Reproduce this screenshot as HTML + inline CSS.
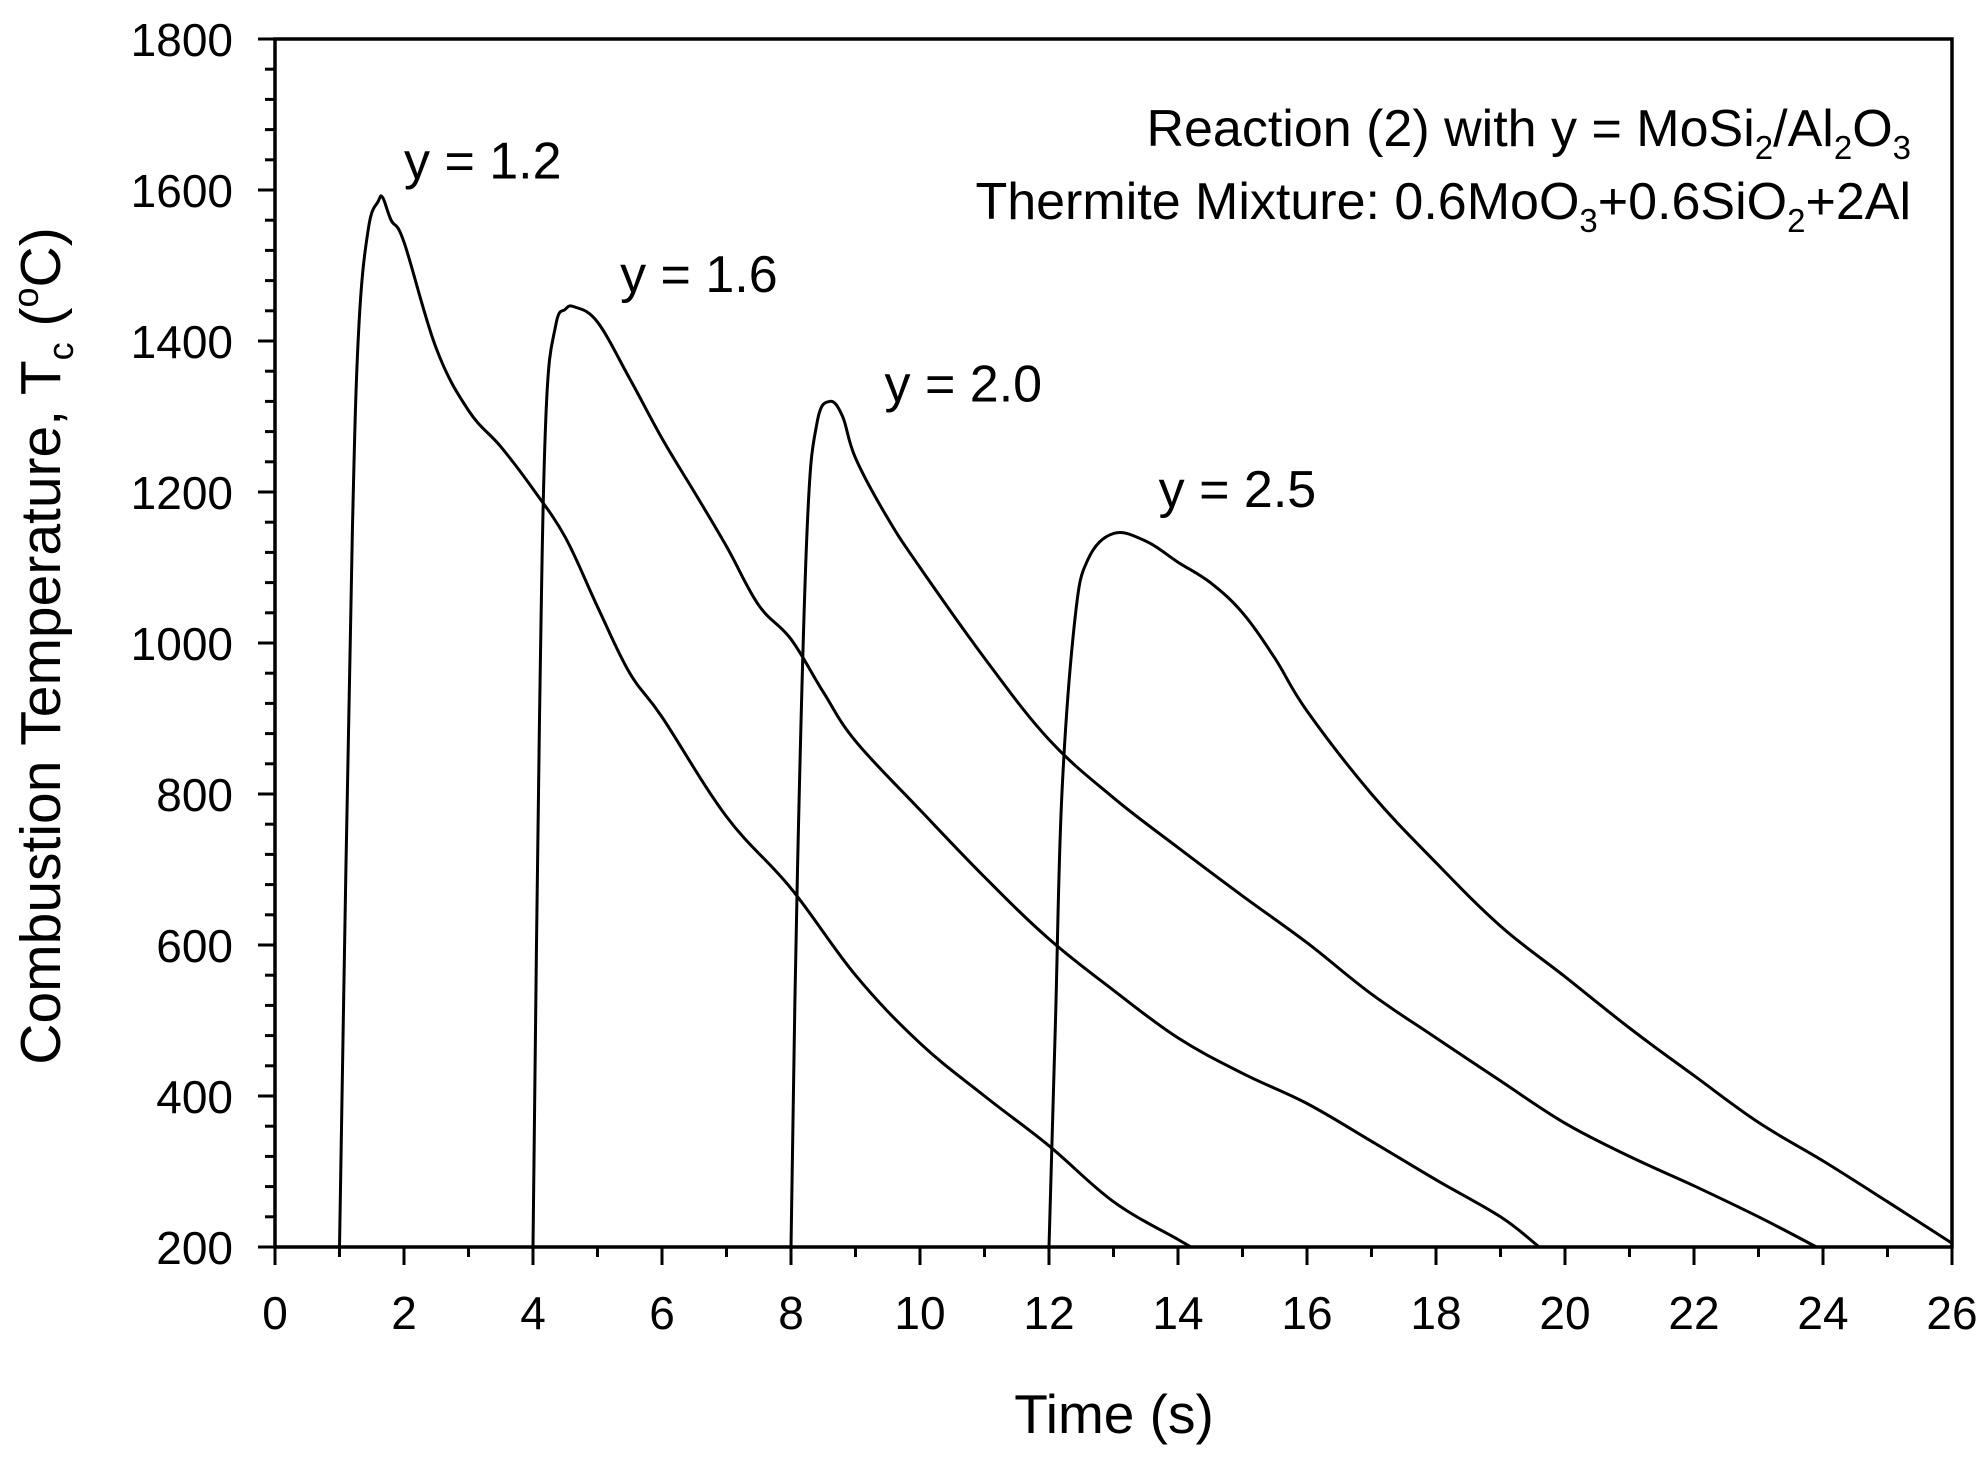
<!DOCTYPE html>
<html><head><meta charset="utf-8"><style>
html,body{margin:0;padding:0;background:#fff;}
svg{display:block;font-family:"Liberation Sans",Arial,sans-serif;}
</style></head><body>
<svg id="chart" width="1988" height="1462" viewBox="0 0 1988 1462" xmlns="http://www.w3.org/2000/svg">
<rect width="1988" height="1462" fill="#fff"/>
<g id="marks"></g>
<g id="axes"></g>
<text x="1911" y="146" font-size="52" text-anchor="end">Reaction (2) with y = MoSi<tspan font-size="33" dy="13">2</tspan><tspan dy="-13">/Al</tspan><tspan font-size="33" dy="13">2</tspan><tspan dy="-13">O</tspan><tspan font-size="33" dy="13">3</tspan></text>
<text x="1911" y="219" font-size="52" text-anchor="end">Thermite Mixture: 0.6MoO<tspan font-size="33" dy="13">3</tspan><tspan dy="-13">+0.6SiO</tspan><tspan font-size="33" dy="13">2</tspan><tspan dy="-13">+2Al</tspan></text>
<text x="1114" y="1433" font-size="55" text-anchor="middle">Time (s)</text>
<text transform="translate(60,646) rotate(-90)" font-size="57" text-anchor="middle">Combustion Temperature, T<tspan font-size="36" dy="13">c</tspan><tspan dy="-13"> (</tspan><tspan font-size="36" dy="-22">o</tspan><tspan dy="22">C)</tspan></text>
</svg>
<script>
const xTicks=[0,2,4,6,8,10,12,14,16,18,20,22,24,26];
const yTicks=[200,400,600,800,1000,1200,1400,1600,1800];
const seriesLabels=["y = 1.2","y = 1.6","y = 2.0","y = 2.5"];
const labelPos=[[2.0,1615],[5.35,1465],[9.45,1320],[13.7,1180]];
const t1=[1.0,1.1,1.2,1.3,1.45,1.6,1.67,1.8,2.0,2.5,3.0,3.5,4.0,4.5,5.0,5.5,6.0,7.0,8.0,9.0,10.0,11.0,12.0,13.0,14.0,14.2];
const v1=[200,700,1150,1420,1550,1585,1590,1560,1531,1390,1308,1260,1204,1140,1048,960,902,770,675,560,470,400,334,260,210,200];
const t2=[4.0,4.1,4.2,4.35,4.5,4.65,5.0,5.5,6.0,6.5,7.0,7.5,8.0,8.5,9.0,10,11,12,13,14,15,16,17,18,19,19.6];
const v2=[200,900,1300,1420,1442,1445,1425,1350,1271,1200,1128,1050,1005,935,870,779,690,608,540,477,430,390,340,289,240,200];
const t3=[8.0,8.1,8.25,8.4,8.6,8.8,9.0,9.5,10,11,12,13,14,15,16,17,18,19,20,21,22,23,23.9];
const v3=[200,700,1150,1290,1320,1300,1245,1165,1100,980,872,795,729,665,603,535,477,420,364,320,281,240,200];
const t4=[12.0,12.1,12.2,12.4,12.6,13.0,13.5,14.0,14.5,15.0,15.5,16,17,18,19,20,21,22,23,24,25,26];
const v4=[200,500,800,1030,1110,1145,1135,1107,1080,1040,980,910,800,709,625,558,490,427,365,314,260,205];
const seriesT=[t1,t2,t3,t4], seriesV=[v1,v2,v3,v4];

const L=275,R=1952,T=39,B=1247;
const sx=t=>L+(t-0)/(26-0)*(R-L);
const sy=v=>B-(v-200)/(1800-200)*(B-T);
const NS="http://www.w3.org/2000/svg";
function mk(tag,attrs,parent){const e=document.createElementNS(NS,tag);for(const k in attrs)e.setAttribute(k,attrs[k]);parent.appendChild(e);return e;}
function smoothPath(p){
  let d="M"+p[0][0].toFixed(1)+","+p[0][1].toFixed(1);
  for(let i=0;i<p.length-1;i++){
    const p0=p[Math.max(0,i-1)],p1=p[i],p2=p[i+1],p3=p[Math.min(p.length-1,i+2)];
    const k=0.18;
    const c1=[p1[0]+(p2[0]-p0[0])*k,p1[1]+(p2[1]-p0[1])*k];
    const c2=[p2[0]-(p3[0]-p1[0])*k,p2[1]-(p3[1]-p1[1])*k];
    d+=" C"+c1.map(v=>v.toFixed(1)).join(",")+" "+c2.map(v=>v.toFixed(1)).join(",")+" "+p2[0].toFixed(1)+","+p2[1].toFixed(1);
  }
  return d;
}
const marks=document.getElementById('marks'), axes=document.getElementById('axes');
seriesT.forEach((ts,i)=>{
  const pts=ts.map((t,j)=>[sx(t),sy(seriesV[i][j])]);
  const p=mk('path',{d:smoothPath(pts),fill:"none",stroke:"#000","stroke-width":"3","stroke-linejoin":"round"},marks);
  
  
  const lb=mk('text',{x:sx(labelPos[i][0]),y:sy(labelPos[i][1]),"font-size":"52"},marks);
  lb.textContent=seriesLabels[i];
  
  
});
const frame=mk('rect',{x:L,y:T,width:R-L,height:B-T,fill:"none",stroke:"#000","stroke-width":"3.5"},axes);


for(let t=0;t<=26;t++){
  const major=t%2===0;
  const tk=mk('line',{x1:sx(t),x2:sx(t),y1:B,y2:B+(major?18:10),stroke:"#000","stroke-width":"3"},axes);
  
  
}
xTicks.forEach(t=>{
  const e=mk('text',{x:sx(t),y:B+82,"font-size":"46","text-anchor":"middle"},axes);
  e.textContent=t;
  
  
});
for(let v=200;v<=1800;v+=40){
  const major=(v-200)%200===0;
  const tk=mk('line',{x1:L-(major?17:10),x2:L,y1:sy(v),y2:sy(v),stroke:"#000","stroke-width":"3"},axes);
  
  
}
yTicks.forEach(v=>{
  const e=mk('text',{x:233,y:sy(v)+17,"font-size":"46","text-anchor":"end"},axes);
  e.textContent=v;
  
  
});
</script>
</body></html>
